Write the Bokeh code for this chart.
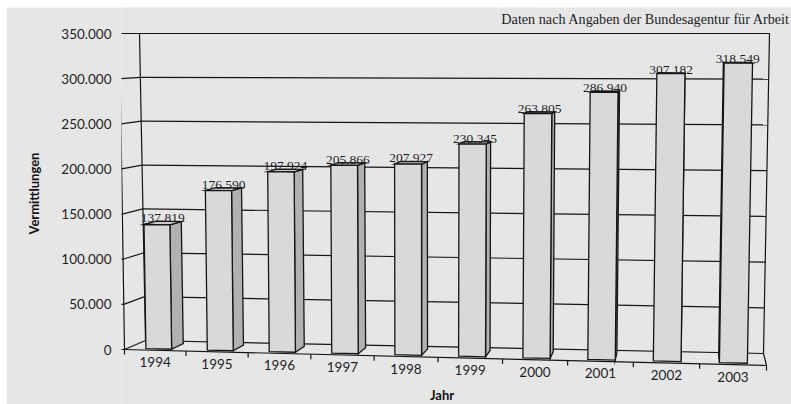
from bokeh.plotting import figure
from bokeh.models import Range1d, FixedTicker, Spacer
from bokeh.layouts import column, row
from bokeh.embed import file_html
from bokeh.resources import INLINE
from bokeh.core.properties import value

# --- data -------------------------------------------------------------
years = ["1994", "1995", "1996", "1997", "1998", "1999", "2000", "2001", "2002", "2003"]
placements = [137819, 176590, 197924, 205866, 207927, 230345, 263805, 286940, 307182, 318549]
value_labels = ["137.819", "176.590", "197.924", "205.866", "207.927",
                "230.345", "263.805", "286.940", "307.182", "318.549"]
y_ticks = [0, 50000, 100000, 150000, 200000, 250000, 300000, 350000]
y_tick_labels = ["0", "50.000", "100.000", "150.000", "200.000", "250.000", "300.000", "350.000"]

Y_MAX = 350000
N = len(years)

# --- 3D box projection ------------------------------------------------
# Corners (page pixels) of the front plane (depth 0) and the back wall (depth 1).
FRONT = {"tl": (119, 33), "tr": (772, 33), "bl": (124, 349), "br": (766, 365)}
BACK = {"tl": (139, 33), "tr": (769, 33), "bl": (145, 340), "br": (763, 353)}
PERSP = 0.00488          # slight widening of categories towards the right
AXIS_Y0 = FRONT["bl"][1]
AXIS_H = FRONT["bl"][1] - FRONT["tl"][1]


def to_val(py):
    """page-pixel height -> value units of the left axis"""
    return (AXIS_Y0 - py) * Y_MAX / AXIS_H


def px_to_val(d):
    return d * Y_MAX / AXIS_H


def lerp(a, b, t):
    return (a[0] + (b[0] - a[0]) * t, a[1] + (b[1] - a[1]) * t)


def plane(c, u, t):
    top = lerp(c["tl"], c["tr"], u)
    bot = lerp(c["bl"], c["br"], u)
    return lerp(bot, top, t)


def project(X, v, z):
    u = (X + PERSP * X * X) / (N + PERSP * N * N)
    t = v / Y_MAX
    f = plane(FRONT, u, t)
    b = plane(BACK, u, t)
    sx = f[0] + (b[0] - f[0]) * z
    sy = f[1] + (b[1] - f[1]) * z
    return sx, to_val(sy)


BG = "#e6e6e6"
LINE = "#151515"
FRONT_FILL = "#d9d9d9"
TOP_FILL = "#cdcdcd"
SIDE_FILL = "#b1b1b1"
SANS = "Lato"
SERIF = "Liberation Serif"

p = figure(width=785, height=397,
           x_range=Range1d(121, 791), y_range=Range1d(to_val(404), to_val(7)),
           output_backend="svg", toolbar_location=None,
           x_axis_location=None, y_axis_location="left",
           min_border_left=115, min_border_right=0, min_border_top=0, min_border_bottom=0,
           background_fill_color=BG, border_fill_color=BG, outline_line_color=None)
p.grid.visible = False

# left value axis (labels only; the slanted edge and ticks are drawn below)
ax = p.yaxis[0]
ax.ticker = FixedTicker(ticks=y_ticks)
ax.major_label_overrides = {t: s for t, s in zip(y_ticks, y_tick_labels)}
ax.bounds = (0, Y_MAX)
ax.axis_line_color = None
ax.major_tick_line_color = None
ax.minor_tick_line_color = None
ax.major_tick_out = 0
ax.major_tick_in = 0
ax.major_label_standoff = 10
ax.major_label_text_font = SANS
ax.major_label_text_font_size = "13.5px"
ax.major_label_text_color = "#1e1e1e"
# the title is centred on the full plot height; leading no-break spaces lift it
# to the middle of the value span
ax.axis_label = "\u00a0" * 8 + "Vermittlungen"
ax.axis_label_text_font = SANS
ax.axis_label_text_font_style = "bold"
ax.axis_label_text_font_size = "13px"
ax.axis_label_text_color = "#111111"
ax.axis_label_standoff = 16

# --- walls, floor and ticks ---------------------------------------------
x0, y0, x1, y1 = [], [], [], []


def seg(a, b):
    x0.append(a[0]); y0.append(a[1]); x1.append(b[0]); y1.append(b[1])


for v in y_ticks:
    seg(project(0, v, 0), project(0, v, 1))          # side wall
    seg(project(0, v, 1), project(N, v, 1))          # back wall
    a = project(0, v, 0)
    seg(a, (a[0] - 5, a[1]))                         # value tick
seg(project(0, 0, 1), project(0, Y_MAX, 1))
seg(project(N, 0, 1), project(N, Y_MAX, 1))
seg(project(0, 0, 0), project(0, Y_MAX, 0))          # front value axis
seg(project(0, 0, 0), project(N, 0, 0))              # front floor edge
seg(project(N, 0, 0), project(N, 0, 1))              # right floor edge
for k in range(N + 1):
    a = project(k, 0, 0)
    seg(a, (a[0], a[1] - px_to_val(5)))              # category tick

p.segment(x0=x0, y0=y0, x1=x1, y1=y1, line_color=LINE, line_width=1.2)

# --- bars -----------------------------------------------------------------
B0, B1 = 0.30, 0.72     # bar extent inside a category
Z0, Z1 = 0.15, 0.75     # bar extent in depth

xs, ys, fills = [], [], []


def face(pts, color):
    xs.append([q[0] for q in pts]); ys.append([q[1] for q in pts]); fills.append(color)


for i, v in enumerate(placements):
    xa, xb = i + B0, i + B1
    if project(xb, v, Z1)[0] > project(xb, v, Z0)[0]:
        face([project(xb, 0, Z0), project(xb, 0, Z1), project(xb, v, Z1), project(xb, v, Z0)], SIDE_FILL)
    if project(xa, v, Z1)[0] < project(xa, v, Z0)[0]:
        face([project(xa, 0, Z0), project(xa, 0, Z1), project(xa, v, Z1), project(xa, v, Z0)], SIDE_FILL)
    face([project(xa, v, Z0), project(xb, v, Z0), project(xb, v, Z1), project(xa, v, Z1)], TOP_FILL)
    face([project(xa, 0, Z0), project(xb, 0, Z0), project(xb, v, Z0), project(xa, v, Z0)], FRONT_FILL)

p.patches(xs=xs, ys=ys, fill_color=fills, line_color=LINE, line_width=1.3, line_join="miter")

# value labels above the bars
lx, ly = [], []
for i, v in enumerate(placements):
    cx = project(i + (B0 + B1) / 2, v, (Z0 + Z1) / 2)[0]
    cy = project(i + (B0 + B1) / 2, v, Z1)[1] + px_to_val(3)
    lx.append(cx); ly.append(cy)
p.text(x=lx, y=ly, text=value_labels, text_font=value(SERIF), text_font_size="13.5px",
       text_color="#1e1e1e", text_align="center", text_baseline="alphabetic")

# category labels under the floor
cx, cy = [], []
for i in range(N):
    a = project(i + 0.5, 0, 0)
    cx.append(a[0]); cy.append(a[1] - px_to_val(12))
p.text(x=cx, y=cy, text=years, text_font=value(SANS), text_font_size="13.5px",
       text_color="#1e1e1e", text_align="center", text_baseline="middle")

# category axis title
mid = project(N / 2, 0, 0)
p.text(x=[mid[0] + 4], y=[mid[1] - px_to_val(38)], text=["Jahr"], text_font=value(SANS),
       text_font_size="13px", text_font_style="bold", text_color="#111111",
       text_align="center", text_baseline="middle")

# source note
p.text(x=[790], y=[to_val(18)], text=["Daten nach Angaben der Bundesagentur für Arbeit"],
       text_font=value(SERIF), text_font_size="14.2px", text_color="#1e1e1e",
       text_align="right", text_baseline="middle")

layout = column(Spacer(height=7), row(Spacer(width=6), p))
open("out.html", "w").write(file_html(layout, INLINE))
